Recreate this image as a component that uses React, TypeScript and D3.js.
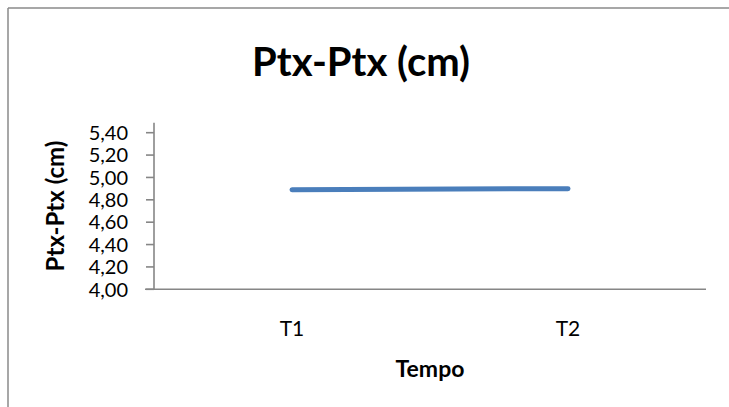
import React from "react";
import * as d3 from "d3";

const categories = ["T1", "T2"];
const values = [4.89, 4.9];
const yTicks = [4.0, 4.2, 4.4, 4.6, 4.8, 5.0, 5.2, 5.4];
const title = "Ptx-Ptx (cm)";
const yTitle = "Ptx-Ptx (cm)";
const xTitle = "Tempo";

const W = 729;
const H = 407;
const FONT = "Lato, 'Open Sans', sans-serif";

export default function App() {
  const left = 154;
  const right = 706;
  const top = 132.7;
  const bottom = 289.3;

  const x = d3.scaleBand<string>().domain(categories).range([left, right]);
  const y = d3.scaleLinear().domain([4.0, 5.4]).range([bottom, top]);
  const cx = (c: string) => (x(c) ?? 0) + x.bandwidth() / 2;

  const line = d3
    .line<number>()
    .x((_, i) => cx(categories[i]))
    .y((d) => y(d));

  const fmt = (v: number) => v.toFixed(2).replace(".", ",");
  const axisColor = "#868686";

  return (
    <svg
      width={W}
      height={H}
      style={{ position: "absolute", left: 0, top: 0, background: "#fff", overflow: "hidden" }}
    >
      <line x1={8} x2={W} y1={8} y2={8} stroke="#8a8a8a" strokeWidth={1.5} />
      <line x1={8} x2={8} y1={8} y2={H} stroke="#8a8a8a" strokeWidth={1.5} />
      <text
        x={361}
        y={76}
        textAnchor="middle"
        fontFamily={FONT}
        fontWeight="bold"
        fontSize={40}
        fill="#000"
      >
        {title}
      </text>

      {/* y axis */}
      <line x1={left} x2={left} y1={top - 10} y2={bottom} stroke={axisColor} strokeWidth={1.6} />
      {yTicks.map((t) => (
        <g key={t}>
          <line x1={left - 8} x2={left} y1={y(t)} y2={y(t)} stroke={axisColor} strokeWidth={1.6} />
          <text
            x={128}
            y={y(t)}
            dy="0.36em"
            textAnchor="end"
            fontFamily={FONT}
            fontSize={20}
            fill="#000"
          >
            {fmt(t)}
          </text>
        </g>
      ))}

      {/* x axis */}
      <line x1={left - 9} x2={right} y1={bottom} y2={bottom} stroke={axisColor} strokeWidth={1.6} />
      {categories.map((c) => (
        <text
          key={c}
          x={cx(c)}
          y={336}
          textAnchor="middle"
          fontFamily={FONT}
          fontSize={21}
          fill="#000"
        >
          {c}
        </text>
      ))}

      <text
        x={430}
        y={377}
        textAnchor="middle"
        fontFamily={FONT}
        fontWeight="bold"
        fontSize={23}
        fill="#000"
      >
        {xTitle}
      </text>

      <text
        transform={`translate(64, ${(top - 10 + bottom) / 2}) rotate(-90)`}
        textAnchor="middle"
        fontFamily={FONT}
        fontWeight="bold"
        fontSize={24}
        fill="#000"
      >
        {yTitle}
      </text>

      <path
        d={line(values) ?? ""}
        fill="none"
        stroke="#4a7ebb"
        strokeWidth={5}
        strokeLinecap="round"
      />
    </svg>
  );
}
